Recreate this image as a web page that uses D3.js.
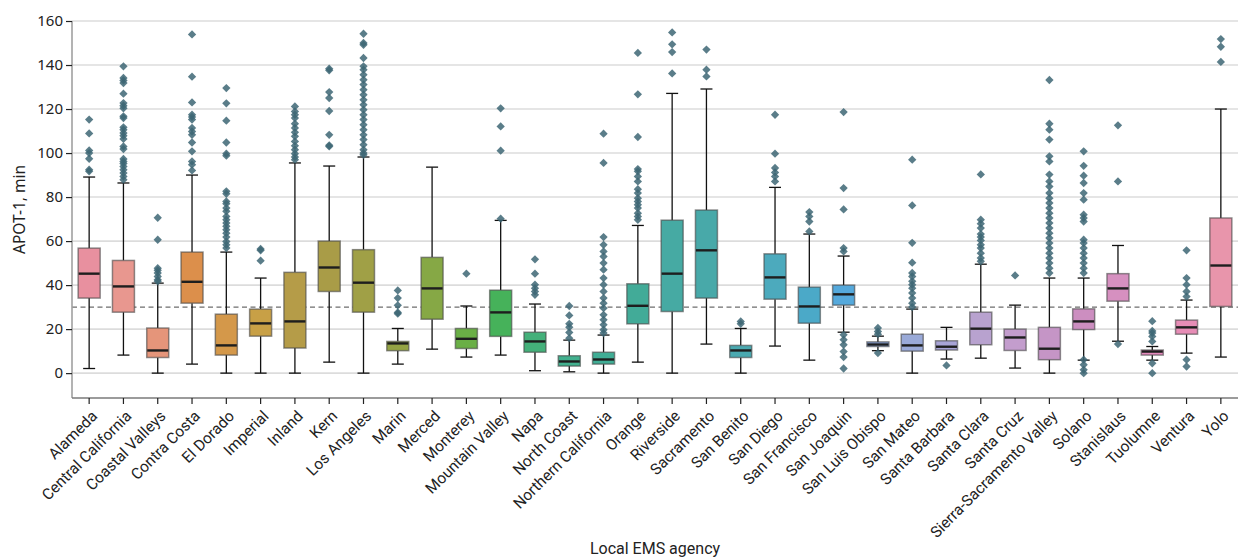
<!DOCTYPE html>
<html>
<head>
<meta charset="utf-8">
<script src="https://cdn.jsdelivr.net/npm/d3@7"></script>
<style>
  html, body { margin: 0; padding: 0; background: #fff; }
  svg { display: block; }
</style>
</head>
<body>
<svg id="chart" width="1238" height="560"></svg>
<script>
// ---------------- DATA ----------------
const agencies = ["Alameda","Central California","Coastal Valleys","Contra Costa","El Dorado","Imperial","Inland","Kern","Los Angeles","Marin","Merced","Monterey","Mountain Valley","Napa","North Coast","Northern California","Orange","Riverside","Sacramento","San Benito","San Diego","San Francisco","San Joaquin","San Luis Obispo","San Mateo","Santa Barbara","Santa Clara","Santa Cruz","Sierra-Sacramento Valley","Solano","Stanislaus","Tuolumne","Ventura","Yolo"];

const q1 =      [34.1,27.7, 7.1,31.8, 8.2,16.8,11.4,37.1,27.7,10.2,24.5,11.2,16.7, 9.5, 3.2, 4.1,22.4,28.0,34.1, 7.1,33.6,22.7,30.9,12.1,10.0,10.5,12.9,10.3, 6.1,19.8,32.7, 8.2,17.7,30.3];
const medians = [45.2,39.4,10.3,41.5,12.6,22.6,23.5,48.0,41.1,13.5,38.5,15.6,27.6,14.4, 5.3, 6.2,30.6,45.2,55.8,10.3,43.5,30.3,35.8,13.0,12.6,12.0,20.2,16.2,11.1,23.5,38.5, 9.8,20.8,48.9];
const q3 =      [56.8,51.2,20.5,55.0,26.8,29.1,45.8,60.0,56.1,14.4,52.6,20.3,37.7,18.6, 7.9, 9.5,40.6,69.5,74.1,12.6,54.2,39.1,40.0,14.2,17.7,14.7,27.7,20.0,20.8,29.2,45.2,10.5,24.1,70.5];
const whiskerLow =  [2.1, 8.2, 0.0, 4.1, 0.0, 0.0, 0.0, 5.0, 0.0, 4.1,10.9, 7.3, 8.2, 1.1, 0.6, 0.0, 5.0, 0.0,13.2, 0.0,12.3, 5.9,18.6,10.2, 0.0, 6.4, 6.8, 2.3, 0.0, 5.9,14.5, 5.9, 9.1, 7.3];
const whiskerHigh = [89.1,86.4,40.9,90.0,55.0,43.2,95.5,94.1,98.2,20.3,93.6,30.5,69.4,31.4,15.0,17.3,67.1,127.1,129.1,20.3,84.4,63.2,53.2,16.8,29.1,20.8,49.5,30.9,43.2,43.2,58.0,12.1,33.2,120.0];

const outliers = [
  [115.2,108.9,101.2,100,97.4,92.4,91.7],
  [139.4,134.1,133,131.8,127,122.7,121.5,120.3,116.7,115.9,111.7,110.6,109.1,107.9,106.4,103,101.8,97.3,96.2,95.2,93.9,92.4,90.9,89.4,87.9],
  [70.6,60.6,47.7,46.7,45.5,43.9,42.4,41.7],
  [153.9,134.7,123,117.4,116.4,115.2,111.4,109.8,108.3,104.8,100.8,96.2,94.7,92.1],
  [129.5,122.6,114.7,104.8,99.7,98.8,82.6,81.5,78,77,75,73.5,71.2,69.7,68.2,66.7,65.2,63.6,61.8,59.8,58.3,56.8],
  [56.4,55.8,51.1],
  [121.2,118.9,117.4,115.9,113.3,111.4,109.4,107.6,105.3,103.3,101.5,99.7,98.2,97],
  [138.3,137.6,127.7,125,119.1,108.3,103.5,103],
  [154.2,150,149.2,143.2,139.4,137.9,135.6,133.3,131.1,128.8,126.5,124.2,122,119.7,117.4,115.2,112.9,110.6,108.3,106.1,103.8,101.5,100,99.2],
  [37.6,34.1,30.8,27.6,27],
  [],
  [45.2],
  [120.3,112.1,101.1,70.2],
  [51.7,45.2,40.2,38.6,37.1,35.6],
  [30.5,26.2,22.4,20.9,18.5,15.9],
  [108.8,95.5,61.8,58.3,55.3,53,50,47,43.2,40.2,37.1,34.1,31.8,29.5,26.5,24.2,22,19.7,18.2],
  [145.5,126.7,107.3,92.7,91.7,89.4,87.1,83.6,81.8,79.5,78,76.5,75,72.7,71.2,69.7],
  [154.8,149.4,145.9,136.2],
  [147,137.9,134.8],
  [23.5,22.4],
  [117.4,99.7,93.2,91.2,89.4,87.1],
  [73.2,71.2,68.9,64.4],
  [118.6,84.1,74.4,56.8,55.3,17.4,15.2,12.9,9.8,7.3,2.1],
  [20.5,18.9,17.7,9.1],
  [97,76.2,59.2,50.2,45.5,43.9,41.7,40.2,38.6,36.4,34.1,31.8,30],
  [3.5],
  [90.3,69.7,67.9,65.9,63.2,61.8,60.3,58.3,56.8,54.5,52.3,50.8],
  [44.4],
  [133.2,113.3,110.6,106.1,98.5,96.2,90.2,87.1,84.8,81.8,79.5,77.3,75,72.7,70.5,68.2,65.9,63.6,61.4,59.1,56.8,54.5,52.3,50,47.7,45.5],
  [100.8,94.2,89.7,86.4,81.8,78.8,72,70.5,68.9,60.6,59.1,56.8,54.5,52.3,50,47.7,45.5,6.1,3.8,1.5,0],
  [112.6,87.1,13.2],
  [23.6,19.2,18.2,16.7,14.4,4.5,0],
  [55.8,43.2,40.2,37.1,34.8,6.1,3],
  [151.8,148.3,141.4]
];

const yTicks = [0,20,40,60,80,100,120,140,160];
const threshold = 30;
const xTitle = "Local EMS agency";
const yTitle = "APOT-1, min";

// box fill colours (muted rainbow, one per agency)
const colors = ["#e8909f","#e8978f","#e5957a","#dc8f4b","#d4984a","#c8a046","#b59c48","#a99c47","#a0a046","#94a344","#86a845","#6aaf46","#46b25a","#44b07a","#42b08e","#40ad95","#42ab98","#46aaa3","#48a9a9","#4aa9b0","#4caabd","#4ba9c8","#55a9dc","#8aa6dc","#9aaad8","#a8a4d6","#b8a2cf","#c39dcd","#c595c6","#cc8ec0","#d690c0","#e58bbd","#e78db6","#e895ab"];

// ---------------- LAYOUT ----------------
const svg = d3.select("#chart");
const W = 1238, H = 560;
const margin = { left: 72, right: 0, top: 21, bottom: 162 };
const plotW = W - margin.left - margin.right;
const plotH = H - margin.top - margin.bottom;

const x = d3.scaleBand().domain(agencies).range([margin.left, W - margin.right]).paddingInner(0).paddingOuter(0);
const y = d3.scaleLinear().domain([-11.3, 160]).range([margin.top + plotH, margin.top]);

const boxW = 22, capW = 12;

// gridlines
svg.append("g").selectAll("line").data(yTicks).join("line")
  .attr("x1", margin.left).attr("x2", W)
  .attr("y1", d => y(d)).attr("y2", d => y(d))
  .attr("stroke", "#dcdcdc").attr("stroke-width", 1.6);

// threshold dashed line
svg.append("line")
  .attr("x1", margin.left).attr("x2", W)
  .attr("y1", y(threshold)).attr("y2", y(threshold))
  .attr("stroke", "#6e6e6e").attr("stroke-width", 1.1)
  .attr("stroke-dasharray", "5,3.5");

// boxes
const g = svg.append("g");
agencies.forEach((a, i) => {
  const cx = x(a) + x.bandwidth() / 2;
  const bg = g.append("g");
  const wl = (v1, v2) => bg.append("line").attr("x1", cx).attr("x2", cx)
    .attr("y1", y(v1)).attr("y2", y(v2)).attr("stroke", "#111").attr("stroke-width", 1.3);
  wl(q3[i], whiskerHigh[i]);
  wl(q1[i], whiskerLow[i]);
  [whiskerHigh[i], whiskerLow[i]].forEach(v => {
    bg.append("line").attr("x1", cx - capW/2).attr("x2", cx + capW/2)
      .attr("y1", y(v)).attr("y2", y(v))
      .attr("stroke", "#111").attr("stroke-width", 1.3);
  });
  bg.append("rect")
    .attr("x", cx - boxW/2).attr("width", boxW)
    .attr("y", y(q3[i])).attr("height", y(q1[i]) - y(q3[i]))
    .attr("fill", colors[i])
    .attr("stroke", "rgba(70,70,70,0.6)").attr("stroke-width", 1.5);
  bg.append("line").attr("x1", cx - boxW/2 + 0.5).attr("x2", cx + boxW/2 - 0.5)
    .attr("y1", y(medians[i])).attr("y2", y(medians[i]))
    .attr("stroke", "#1e1e1e").attr("stroke-width", 2.4);
  bg.selectAll("path.o").data(outliers[i]).join("path")
    .attr("class", "o")
    .attr("d", d3.symbol(d3.symbolDiamond2, 44)())
    .attr("transform", d => `translate(${cx},${y(d)})`)
    .attr("fill", "#3d6674").attr("fill-opacity", 0.85);
});

// axes
const yAxis = d3.axisLeft(y).tickValues(yTicks).tickSize(6).tickPadding(3);
const ya = svg.append("g").attr("transform", `translate(${margin.left},0)`).call(yAxis);
ya.select(".domain").attr("stroke", "#a0a0a0").attr("stroke-width", 1.6)
  .attr("d", `M0,${margin.top}V${margin.top + plotH}`);
ya.selectAll(".tick line").attr("stroke", "#222").attr("stroke-width", 1.2);
ya.selectAll(".tick text").attr("font-family", "'Noto Sans', 'DejaVu Sans', sans-serif")
  .attr("font-size", 15).attr("fill", "#222");

const xAxis = d3.axisBottom(x).tickSize(6).tickPadding(4);
const xa = svg.append("g").attr("transform", `translate(0,${margin.top + plotH})`).call(xAxis);
xa.select(".domain").attr("stroke", "#7a7a7a").attr("stroke-width", 1.4)
  .attr("d", `M${margin.left},0H${W}`);
xa.selectAll(".tick line").attr("stroke", "#222").attr("stroke-width", 1.2);
xa.selectAll(".tick text")
  .attr("font-family", "Roboto, 'Noto Sans', sans-serif")
  .attr("font-size", 15.5).attr("fill", "#222")
  .attr("text-anchor", "end")
  .attr("dy", "0")
  .attr("transform", "translate(9,19) rotate(-45)")
  .attr("y", 0).attr("x", 0);

// titles
svg.append("text").attr("x", margin.left + plotW / 2).attr("y", 554)
  .attr("text-anchor", "middle")
  .attr("font-family", "Roboto, 'Noto Sans', sans-serif").attr("font-size", 16).attr("fill", "#222")
  .text(xTitle);
svg.append("text")
  .attr("transform", `translate(25,${margin.top + plotH/2}) rotate(-90)`)
  .attr("text-anchor", "middle")
  .attr("font-family", "'Noto Sans', 'DejaVu Sans', sans-serif").attr("font-size", 15.5).attr("fill", "#222")
  .text(yTitle);
</script>
</body>
</html>
